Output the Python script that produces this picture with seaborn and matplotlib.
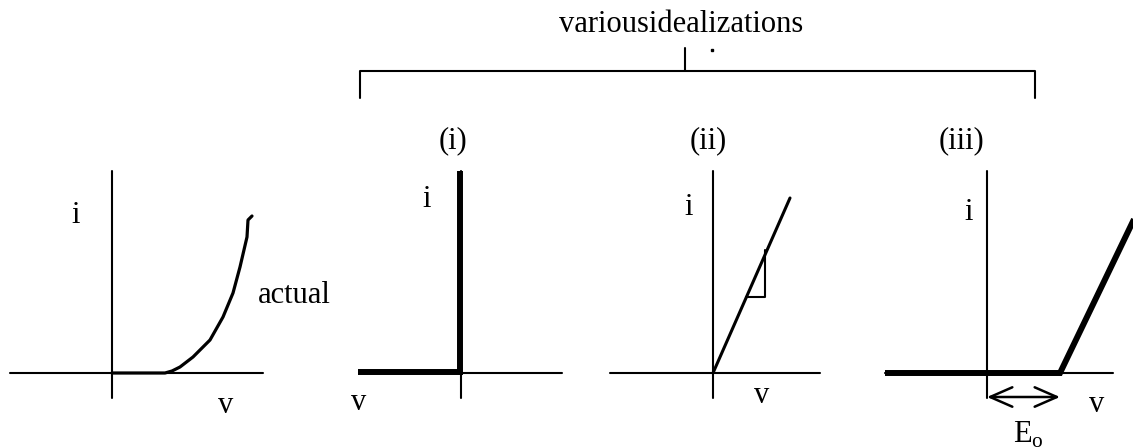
import numpy as np
import pandas as pd
import matplotlib.pyplot as plt
import seaborn as sns

sns.set_style("white")
plt.rcParams['font.family'] = ['Liberation Serif', 'DejaVu Serif']
plt.rcParams['text.color'] = 'black'

# canvas is in pixel units, y pointing down; each panel has its own origin
origins_x = [112, 461, 713, 987]
origin_y = 373
axis_left = [-102, -102, -103, -102]
axis_right = [151, 101, 107, 126]
axis_top = 202
axis_below = 25

# actual diode curve (local v, i)
actual_v = [0, 53, 60, 68, 81, 98, 111, 121, 128, 135, 136, 140]
actual_i = [0, 0, 2, 6, 16, 33, 56, 80, 106, 136, 153, 157]

# (ii) ideal resistor line + slope triangle
ii_v = [0, 77]
ii_i = [0, 175]
tri_v = [33, 52, 52]
tri_i = [76, 76, 123]

# (iii) offset line
E0 = 73
iii_v = [-102, E0, 150]
iii_i = [0, 0, 160]

panel_titles = ["(i)", "(ii)", "(iii)"]
title_x = [453, 708, 961]

fig = plt.figure(figsize=(11.33, 4.48), dpi=100)
ax = fig.add_axes([0, 0, 1, 1])
ax.set_xlim(0, 1133)
ax.set_ylim(448, 0)
ax.axis('off')

thin = 1.5
thick = 4.3
fs = 22

# axes for every panel
for k, ox in enumerate(origins_x):
    ax.plot([ox + axis_left[k], ox + axis_right[k]], [origin_y, origin_y], color='black', lw=thin)
    ax.plot([ox, ox], [origin_y - axis_top, origin_y + axis_below], color='black', lw=thin)

# panel 1: actual curve
df = pd.DataFrame({'x': [origins_x[0] + v for v in actual_v],
                   'y': [origin_y - i for i in actual_i]})
sns.lineplot(data=df, x='x', y='y', sort=False, ax=ax, color='black', lw=2.3)
ax.text(76, 223, "i", fontsize=fs, ha='center', va='baseline')
ax.text(226, 413, "v", fontsize=fs, ha='center', va='baseline')
ax.text(258, 303, "actual", fontsize=fs, ha='left', va='baseline')

# panel (i): ideal switch
ox = origins_x[1]
ax.plot([ox + axis_left[1] - 1, ox - 1, ox - 1], [origin_y - 1, origin_y - 1, origin_y - axis_top],
        color='black', lw=thick, solid_joinstyle='miter', solid_capstyle='butt')
ax.text(427, 207, "i", fontsize=fs, ha='center', va='baseline')
ax.text(359, 410, "v", fontsize=fs, ha='center', va='baseline')

# panel (ii)
ox = origins_x[2]
ax.plot([ox + v for v in ii_v], [origin_y - i for i in ii_i], color='black', lw=2.2)
ax.plot([ox + v for v in tri_v], [origin_y - i for i in tri_i], color='black', lw=thin)
ax.text(689, 215, "i", fontsize=fs, ha='center', va='baseline')
ax.text(762, 403, "v", fontsize=fs, ha='center', va='baseline')

# panel (iii)
ox = origins_x[3]
ax.plot([ox + v for v in iii_v], [origin_y - i for i in iii_i], color='black', lw=thick,
        solid_capstyle='butt', solid_joinstyle='miter')
ax.annotate("", xy=(ox, 397), xytext=(ox + E0, 397),
            arrowprops=dict(arrowstyle='<->,head_length=1.6,head_width=0.7', color='black', lw=1.8,
                            mutation_scale=10, shrinkA=0, shrinkB=0))
ax.text(969, 220, "i", fontsize=fs, ha='center', va='baseline')
ax.text(1097, 412, "v", fontsize=fs, ha='center', va='baseline')
ax.text(1028, 443, "E$_{\\mathregular{o}}$", fontsize=fs, ha='center', va='baseline')

for t, x in zip(panel_titles, title_x):
    ax.text(x, 148, t, fontsize=fs, ha='center', va='baseline')

# bracket above the idealizations
ax.plot([360, 360, 1035, 1035], [98, 71, 71, 98], color='black', lw=thin)
ax.plot([685, 685], [48, 71], color='black', lw=thin)
ax.plot([712], [50], marker='s', ms=1.5, color='black')
ax.text(681, 32, "variousidealizations", fontsize=fs, ha='center', va='baseline')

ax.set_xlabel('')
ax.set_ylabel('')
plt.savefig('out.png', dpi=100)
